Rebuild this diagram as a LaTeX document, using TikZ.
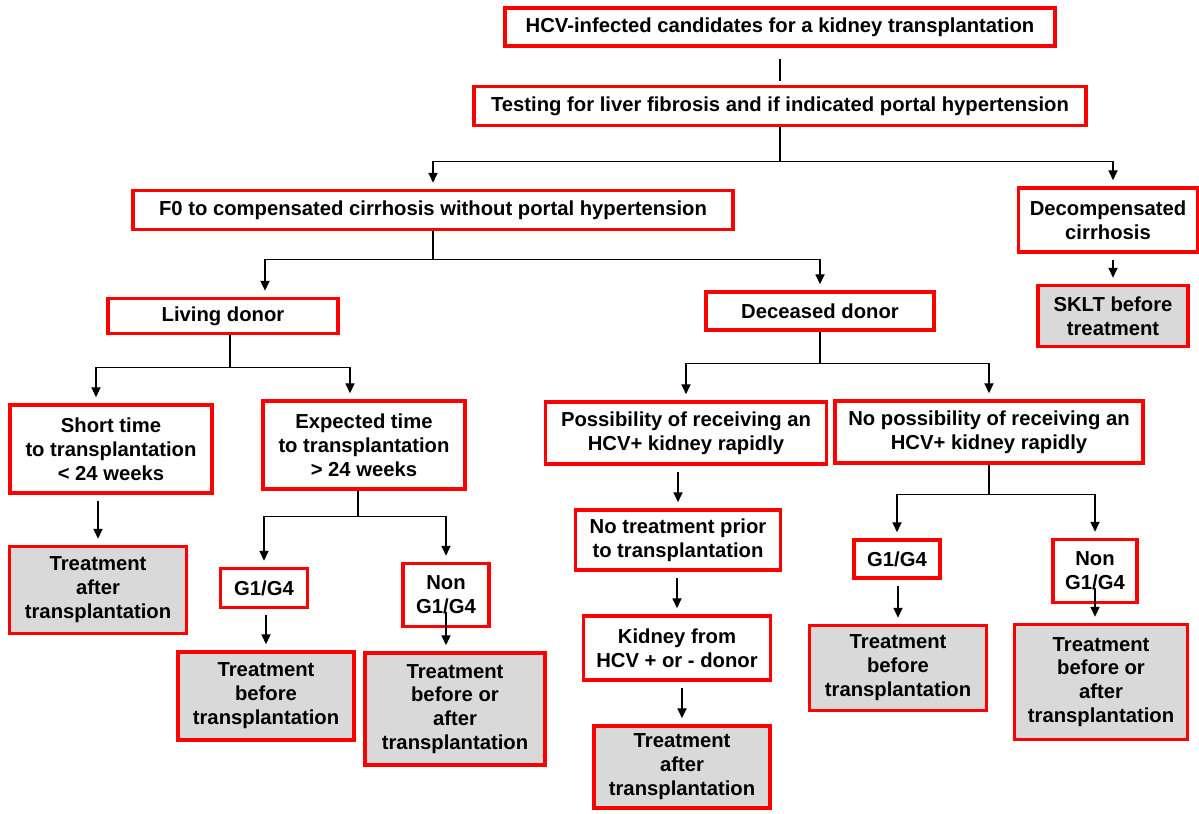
\documentclass[tikz,border=0pt]{standalone}
\usepackage{fontspec}
\setmainfont{Liberation Sans}
\usetikzlibrary{arrows.meta,positioning}
\definecolor{boxred}{RGB}{255,0,0}
\definecolor{outgray}{RGB}{217,217,217}
\tikzset{
  every picture/.style={font=\bfseries\fontsize{14.4}{17}\selectfont},
  box/.style={draw=boxred,line width=2.6pt,fill=white,align=center,inner sep=2pt},
  outcome/.style={box,fill=outgray},
  sz/.style 2 args={minimum width=#1*0.025cm,minimum height=#2*0.025cm},
  link/.style={line width=0.9pt},
  arr/.style={link,-{Triangle[width=6.5pt,length=7pt]},shorten >=0.15cm},
}

\begin{document}
\begin{tikzpicture}[x=0.025cm,y=-0.025cm]
  \useasboundingbox (0,0) rectangle (1199,814);
  % top of the tree
  \node[box,sz={550}{38}] (hcv) at (780,27) {HCV-infected candidates for a kidney transplantation};
  \node[box,sz={612}{39}] (test) at (780,106) {Testing for liver fibrosis and if indicated portal hypertension};
  \node[box,sz={600}{39}] (fzero) at (433,210) {F0 to compensated cirrhosis without portal hypertension};
  \node[box,sz={179}{64}] (decomp) at (1108,220) {Decompensated\\cirrhosis};
  \node[outcome,sz={150}{61}] (sklt) at (1113,316) {SKLT before\\treatment};
  \node[box,sz={230}{35}] (living) at (223,316) {Living donor};
  \node[box,sz={228}{38}] (deceased) at (820,311) {Deceased donor};
  % living donor side
  \node[box,sz={202}{88}] (short) at (111,449) {Short time\\to transplantation\\< 24 weeks};
  \node[box,sz={202}{88}] (expected) at (364,445) {Expected time\\to transplantation\\> 24 weeks};
  \node[outcome,sz={177}{87}] (afterL) at (98,590) {Treatment\\after\\transplantation};
  \node[box,sz={87}{39}] (gfourL) at (264,588) {G1/G4};
  \node[box,sz={86}{63}] (nonL) at (446,595) {Non\\G1/G4};
  \node[outcome,sz={176}{88}] (beforeL) at (266,696) {Treatment\\before\\transplantation};
  \node[outcome,sz={180}{112}] (eitherL) at (455,709) {Treatment\\before or\\after\\transplantation};
  % deceased donor side
  \node[box,sz={281}{62}] (rapid) at (686,433) {Possibility of receiving an\\HCV+ kidney rapidly};
  \node[box,sz={308}{62}] (norapid) at (989,432) {No possibility of receiving an\\HCV+ kidney rapidly};
  \node[box,sz={205}{60}] (notreat) at (678,540) {No treatment prior\\to transplantation};
  \node[box,sz={187}{64}] (kidney) at (677,648) {Kidney from\\HCV + or - donor};
  \node[outcome,sz={176}{82}] (afterR) at (682,767) {Treatment\\after\\transplantation};
  \node[box,sz={86}{38}] (gfourR) at (897,559) {G1/G4};
  \node[box,sz={84}{63}] (nonR) at (1095,571) {Non\\G1/G4};
  \node[outcome,sz={177}{85}] (beforeR) at (898,668) {Treatment\\before\\transplantation};
  \node[outcome,sz={173}{115}] (eitherR) at (1101,682) {Treatment\\before or\\after\\transplantation};

  \draw[link,shorten <=0.275cm,shorten >=0.1cm] (hcv.south) -- (test.north);
  % branchings
  \draw[link] (test.south) -- ++(0,34) coordinate (sA);
  \draw[arr] (sA) -| (fzero.north);
  \draw[arr] (sA) -| (decomp.north -| sklt.north);
  \draw[link] (fzero.south) -- ++(0,28) coordinate (sB);
  \draw[arr] (sB) -| ([xshift=1.05cm]living.north);
  \draw[arr] (sB) -| (deceased.north);
  \draw[link] ([xshift=0.175cm]living.south) -- ++(0,32) coordinate (sC);
  \draw[arr] (sC) -| ([xshift=-0.375cm]short.north);
  \draw[arr] (sC) -| ([xshift=-0.35cm]expected.north);
  \draw[link] ([xshift=-0.15cm]expected.south) -- ++(0,26) coordinate (sD);
  \draw[arr] (sD) -| (gfourL.north);
  \draw[arr] (sD) -| (nonL.north);
  \draw[link] (deceased.south) -- ++(0,32) coordinate (sE);
  \draw[arr] (sE) -| (rapid.north);
  \draw[arr] (sE) -| (norapid.north);
  \draw[link] (norapid.south) -- ++(0,30) coordinate (sF);
  \draw[arr] (sF) -| (gfourR.north);
  \draw[arr] (sF) -| (nonR.north);
  % straight arrows
  \foreach \a/\b in {decomp/sklt,short/afterL,gfourL/beforeL,rapid/notreat,notreat/kidney,kidney/afterR,gfourR/beforeR}
    \draw[arr,shorten <=0.15cm] (\a.south -| \b.north) -- (\b.north);
  \foreach \a/\b in {nonL/eitherL,nonR/eitherR}
    \draw[arr,shorten <=-0.4cm] (\a.south) -- (\a.south |- \b.north);
\end{tikzpicture}
\end{document}
